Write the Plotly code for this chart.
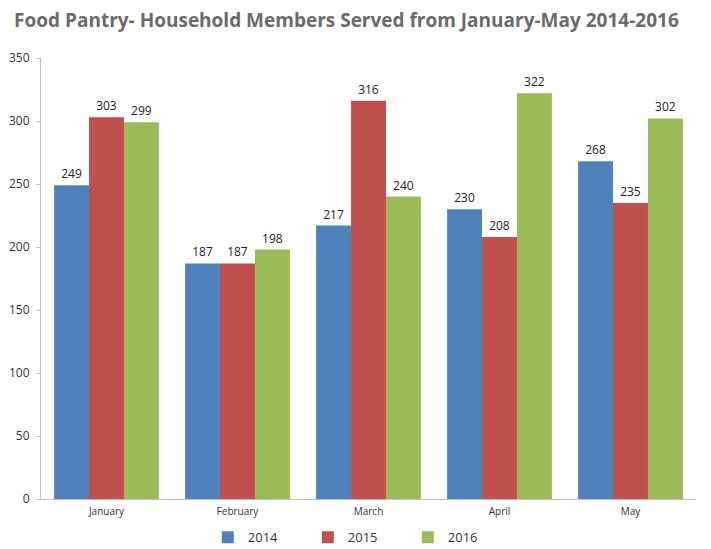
import plotly.graph_objects as go

months = ["January", "February", "March", "April", "May"]
years = ["2014", "2015", "2016"]
v2014 = [249, 187, 217, 230, 268]
v2015 = [303, 187, 316, 208, 235]
v2016 = [299, 198, 240, 322, 302]
colors = ["#4F81BD", "#C0504D", "#9BBB59"]

fig = go.Figure()
for name, vals, c in zip(years, [v2014, v2015, v2016], colors):
    fig.add_trace(go.Bar(
        x=months, y=vals, name=name, marker=dict(color=c, line=dict(width=0)),
        text=[str(v) for v in vals], textposition="outside",
        textfont=dict(size=12, color="#222222", family="Open Sans"),
        cliponaxis=False,
    ))

fig.update_layout(
    width=711, height=549,
    paper_bgcolor="white", plot_bgcolor="white",
    barmode="group", bargap=0.2, bargroupgap=0,
    margin=dict(l=33, r=23, t=50, b=58),
    title=dict(text="<b>Food Pantry- Household Members Served from January-May 2014-2016</b>",
               x=0.476, xanchor="center", y=0.977, yanchor="middle",
               font=dict(size=19, color="#6b6b6b", family="Open Sans")),
    font=dict(family="Open Sans", color="#333333"),
    legend=dict(orientation="h", xref="container", yref="container",
                x=0.492, xanchor="center", y=0.036, yanchor="middle",
                font=dict(size=13, color="#333333"), traceorder="normal",
                entrywidth=55, entrywidthmode="pixels"),
)
fig.update_yaxes(range=[0, 350], dtick=50, showgrid=False, showline=True,
                 linecolor="#bfbfbf", linewidth=1, ticks="outside", ticklen=4,
                 tickcolor="#bfbfbf", tickfont=dict(size=12, color="#333333"),
                 zeroline=False, ticklabelstandoff=4, automargin=False)
fig.update_xaxes(showgrid=False, showline=True, linecolor="#bfbfbf", linewidth=1,
                 tickfont=dict(size=10, color="#333333"), ticks="",
                 ticklabelstandoff=3, automargin=False)

fig.write_html("out.html")
